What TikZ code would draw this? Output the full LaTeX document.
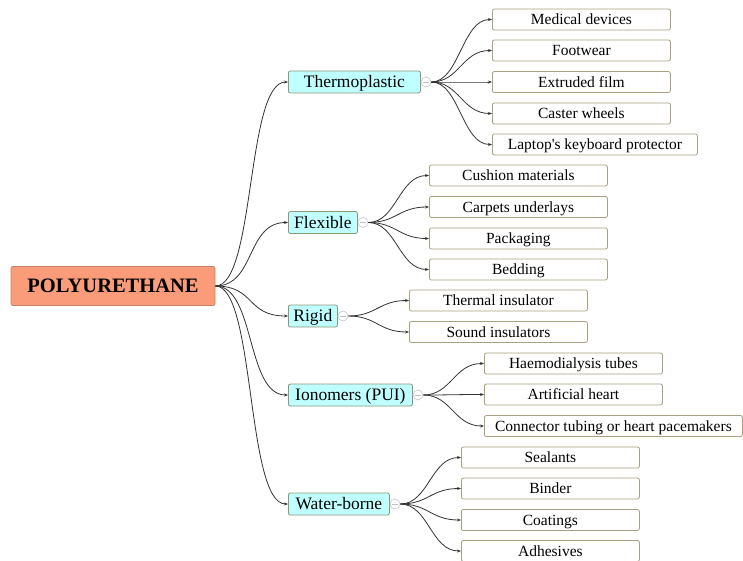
\documentclass[tikz,border=0pt]{standalone}
\usepackage{fontspec}
\setmainfont{Liberation Serif}[Ligatures=TeXOff]
\usetikzlibrary{arrows.meta}
\definecolor{rootfill}{RGB}{250,156,122}
\definecolor{rootdraw}{RGB}{200,128,96}
\definecolor{catfill}{RGB}{192,255,255}
\definecolor{catdraw}{RGB}{140,150,120}
\definecolor{leafdraw}{RGB}{168,160,128}
\definecolor{conncol}{RGB}{50,50,50}
\begin{document}
\begin{tikzpicture}[x=1pt,y=-1pt,
  rootbox/.style={draw=rootdraw, fill=rootfill, rounded corners=2pt, line width=0.8pt, minimum width=204pt, minimum height=39pt, inner sep=0pt, text height=13.6pt, text depth=0pt, font=\fontsize{20.5}{24}\selectfont\bfseries},
  catbox/.style={draw=catdraw, fill=catfill, rounded corners=2pt, line width=0.8pt, minimum height=22pt, inner sep=0pt, anchor=west, text height=11.6pt, text depth=0pt, font=\fontsize{17.5}{20}\selectfont},
  leafbox/.style={draw=leafdraw, fill=white, rounded corners=2pt, line width=0.8pt, minimum height=21pt, inner sep=0pt, anchor=west, text height=10.3pt, text depth=0pt, font=\fontsize{15.5}{18}\selectfont},
  collapse/.style={circle, draw=gray!40, fill=white, line width=0.7pt, minimum size=10pt, inner sep=0pt,
    path picture={\draw[gray!50, line width=0.6pt] ([xshift=-3pt]path picture bounding box.center) -- ([xshift=3pt]path picture bounding box.center);}},
  conn/.style={draw=conncol, line width=0.8pt, -{Stealth[length=4pt,width=3pt]}},
]
\useasboundingbox (0,0) rectangle (743,561);

% root
\node[rootbox] (root) at (113,286) {POLYURETHANE};

% categories
\node[catbox, minimum width=132pt] (thermo) at (288,82) {Thermoplastic};
\node[catbox, minimum width=69pt] (flex) at (288,222.5) {Flexible};
\node[catbox, minimum width=49pt] (rigid) at (288,316) {Rigid};
\node[catbox, minimum width=124pt] (iono) at (288,395) {Ionomers (PUI)};
\node[catbox, minimum width=101pt] (water) at (288,504) {Water-borne};

% collapse markers
\node[collapse] (thermoc) at (426,82) {};
\node[collapse] (flexc) at (363,222.5) {};
\node[collapse] (rigidc) at (343,316) {};
\node[collapse] (ionoc) at (418,395) {};
\node[collapse] (waterc) at (395,504) {};

% thermoplastic leaves
\node[leafbox, minimum width=178pt] (t1) at (492,19.5) {Medical devices};
\node[leafbox, minimum width=178pt] (t2) at (492,50.5) {Footwear};
\node[leafbox, minimum width=178pt] (t3) at (492,82) {Extruded film};
\node[leafbox, minimum width=178pt] (t4) at (492,113.5) {Caster wheels};
\node[leafbox, minimum width=205pt] (t5) at (492,144.5) {Laptop's keyboard protector};

% flexible leaves
\node[leafbox, minimum width=178pt] (f1) at (429,175.5) {Cushion materials};
\node[leafbox, minimum width=178pt] (f2) at (429,207) {Carpets underlays};
\node[leafbox, minimum width=178pt] (f3) at (429,238.5) {Packaging};
\node[leafbox, minimum width=178pt] (f4) at (429,269.5) {Bedding};

% rigid leaves
\node[leafbox, minimum width=178pt] (r1) at (409,300.5) {Thermal insulator};
\node[leafbox, minimum width=178pt] (r2) at (409,332) {Sound insulators};

% ionomer leaves
\node[leafbox, minimum width=178pt] (i1) at (484,363.5) {Haemodialysis tubes};
\node[leafbox, minimum width=178pt] (i2) at (484,394.5) {Artificial heart};
\node[leafbox, minimum width=258pt] (i3) at (484,426) {Connector tubing or heart pacemakers};

% water-borne leaves
\node[leafbox, minimum width=178pt] (w1) at (461,457.5) {Sealants};
\node[leafbox, minimum width=178pt] (w2) at (461,488.5) {Binder};
\node[leafbox, minimum width=178pt] (w3) at (461,520) {Coatings};
\node[leafbox, minimum width=178pt] (w4) at (461,551) {Adhesives};

% root connectors
\foreach \c in {thermo,flex,rigid,iono,water}
  \draw[conn] (root.east) .. controls +(40,0) and +(-42,0) .. (\c.west);

% leaf connectors
\foreach \p/\l in {thermoc/t1,thermoc/t2,thermoc/t3,thermoc/t4,thermoc/t5,
                   flexc/f1,flexc/f2,flexc/f3,flexc/f4,
                   rigidc/r1,rigidc/r2,
                   ionoc/i1,ionoc/i2,ionoc/i3,
                   waterc/w1,waterc/w2,waterc/w3,waterc/w4}
  \draw[conn] (\p.east) .. controls +(28,0) and +(-30,0) .. (\l.west);
\end{tikzpicture}
\end{document}
